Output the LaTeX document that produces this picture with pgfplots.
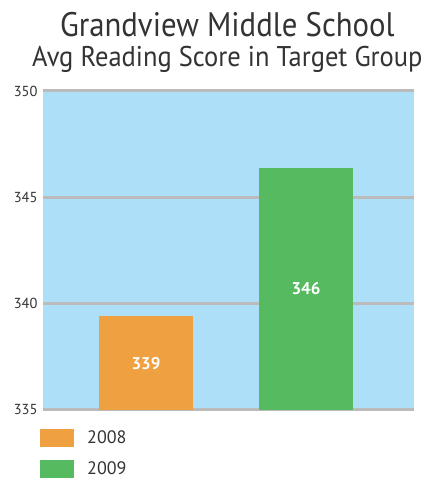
\documentclass[border=0pt]{standalone}
\usepackage{graphicx}
\usepackage{pgfplots}
\pgfplotsset{compat=1.18}
\usepackage{fontspec}
\setmainfont{PT Sans}
\definecolor{bgblue}{HTML}{ADE0F8}
\definecolor{gridgray}{HTML}{BBBBBB}
\definecolor{barorange}{HTML}{EFA040}
\definecolor{bargreen}{HTML}{55BA60}
\definecolor{txt}{HTML}{333333}
\begin{document}
\begin{tikzpicture}
\useasboundingbox (0,0) rectangle (426pt,478pt);
\begin{axis}[
  at={(43pt,68pt)}, anchor=south west,
  scale only axis, width=371pt, height=319pt,
  xmin=-0.644, xmax=1.675,
  ymin=335, ymax=350,
  ytick={335,340,345,350},
  xtick=\empty,
  axis line style={draw=none},
  major tick length=0pt,
  ymajorgrids,
  grid style={line width=3pt, gridgray},
  axis background/.style={fill=bgblue},
  /pgf/number format/assume math mode=true,
  yticklabel style={font=\fontsize{14.5}{16}\selectfont, text=txt, xshift=-2pt},
  ybar, bar width=94pt, bar shift=0pt,
  clip=false,
  nodes near coords,
  point meta=explicit symbolic,
  visualization depends on={rawy \as \rawy},
  every node near coord/.append style={anchor=center, text=white,
     font=\bfseries\fontsize{17}{19}\selectfont,
     yshift={-(\rawy-335)*10.6333}},
  legend style={at={(-0.008,-0.0596)}, anchor=north west, draw=none, fill=none,
     inner sep=0pt, font=\fontsize{18}{20}\selectfont, text=txt,
     row sep=13pt, cells={anchor=west}, nodes={inner sep=0pt},
     /tikz/every even column/.append style={column sep=0pt}},
  legend image code/.code={\fill[#1] (0pt,-9pt) rectangle (34pt,9pt);},
]
\addplot[fill=barorange, draw=none] coordinates {(0,339.4) [339]};
\addplot[fill=bargreen, draw=none] coordinates {(1,346.4) [346]};
\legend{\hspace{13pt}2008,\hspace{13pt}2009}
\node[anchor=base, text=txt, font=\fontsize{28.5}{30}\selectfont] at (rel axis cs:0.497,1) [yshift=24pt] {\scalebox{0.93}[1]{Avg Reading Score in Target Group}};
\node[anchor=base, text=txt, font=\fontsize{34}{36}\selectfont] at (rel axis cs:0.497,1) [yshift=54pt] {\scalebox{0.905}[1]{Grandview Middle School}};
\end{axis}
\end{tikzpicture}
\end{document}
